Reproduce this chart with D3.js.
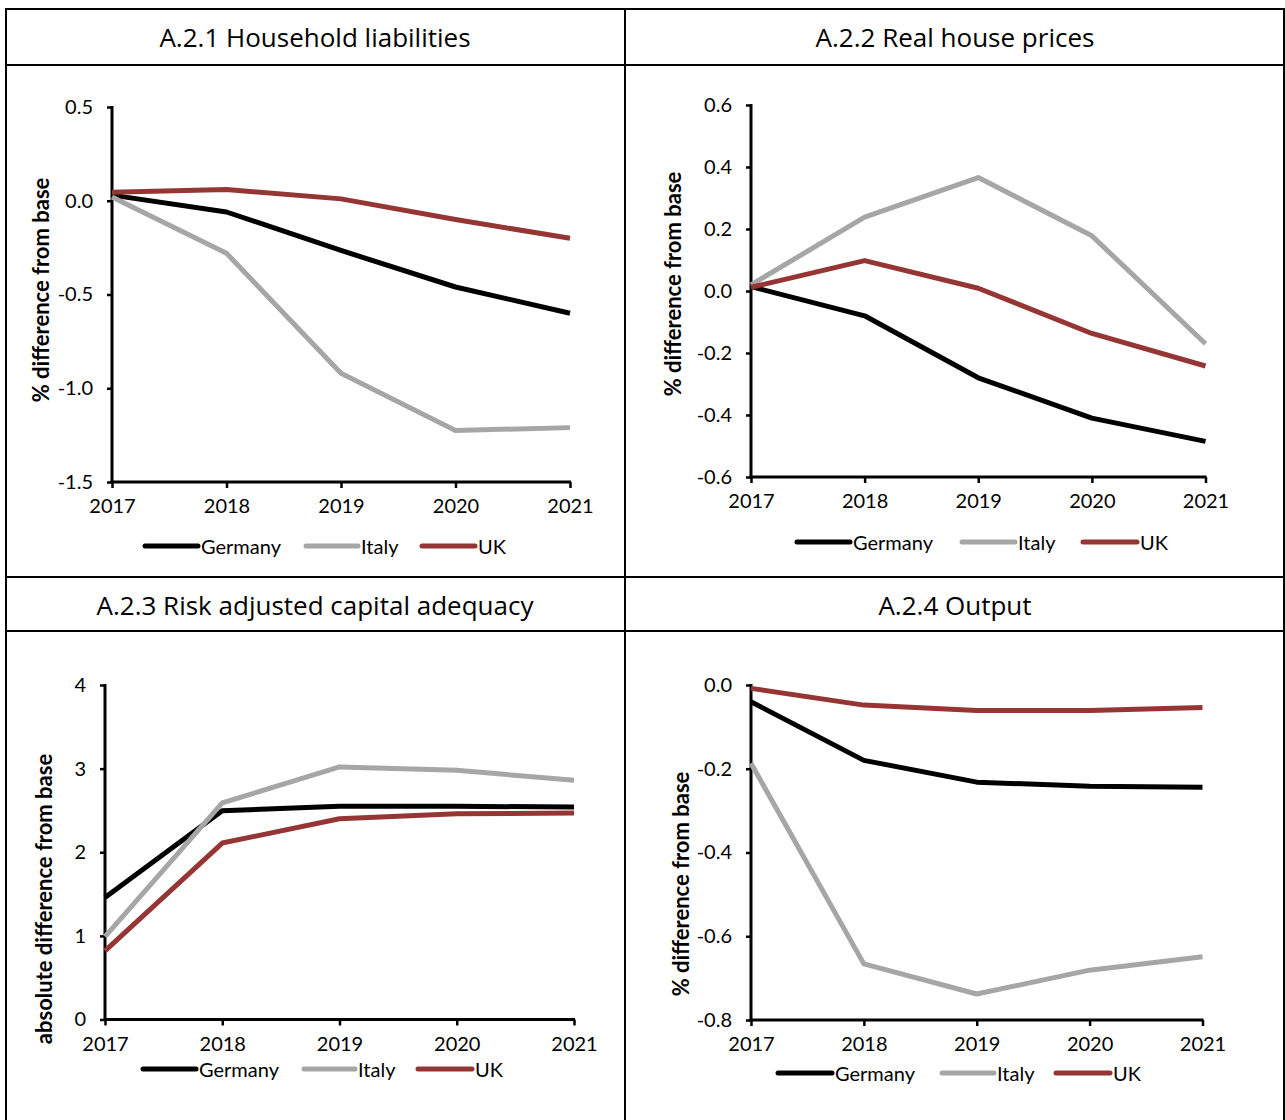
<!DOCTYPE html>
<html>
<head>
<meta charset="utf-8">
<script src="https://cdn.jsdelivr.net/npm/d3@7"></script>
<style>
  html, body { margin: 0; padding: 0; background: #fff; }
  svg text { font-family: "Lato", "Open Sans", sans-serif; fill: #000; }
  .title { font-family: "Open Sans", "Noto Sans", sans-serif; font-size: 26px; }
</style>
</head>
<body>
<svg id="chart" width="1285" height="1120"></svg>
<script>
// Years on the horizontal axis
const years = [2017, 2018, 2019, 2020, 2021];
const seriesNames = ["Germany", "Italy", "UK"];
const seriesColors = ["#000000", "#a6a6a6", "#963634"];

// A.2.1 Household liabilities (% difference from base)
const liabGermany = [0.03, -0.06, -0.265, -0.46, -0.60];
const liabItaly   = [0.02, -0.28, -0.92, -1.225, -1.21];
const liabUK      = [0.045, 0.06, 0.01, -0.10, -0.20];
const liabTicks   = [0.5, 0.0, -0.5, -1.0, -1.5];

// A.2.2 Real house prices (% difference from base)
const houseGermany = [0.014, -0.08, -0.28, -0.41, -0.485];
const houseItaly   = [0.02, 0.238, 0.366, 0.178, -0.17];
const houseUK      = [0.012, 0.098, 0.009, -0.137, -0.242];
const houseTicks   = [0.6, 0.4, 0.2, 0.0, -0.2, -0.4, -0.6];

// A.2.3 Risk adjusted capital adequacy (absolute difference from base)
const capGermany = [1.46, 2.495, 2.55, 2.55, 2.54];
const capItaly   = [0.99, 2.59, 3.02, 2.98, 2.86];
const capUK      = [0.82, 2.11, 2.40, 2.46, 2.47];
const capTicks   = [4, 3, 2, 1, 0];

// A.2.4 Output (% difference from base)
const outGermany = [-0.04, -0.18, -0.232, -0.242, -0.244];
const outItaly   = [-0.187, -0.666, -0.738, -0.681, -0.649];
const outUK      = [-0.008, -0.048, -0.061, -0.061, -0.054];
const outTicks   = [0.0, -0.2, -0.4, -0.6, -0.8];

const svg = d3.select("#chart");

// tick formatters using a plain hyphen for negatives
const oneDecimal = v => d3.format(".1f")(v).replace("\u2212", "-");
const integer = v => d3.format("d")(v).replace("\u2212", "-");

// Table frame
const frame = svg.append("g").attr("stroke", "#000").attr("stroke-width", 2);
[[6, 9, 6, 1120], [1284, 9, 1284, 1120], [625, 9, 625, 1120],
 [5, 9, 1285, 9], [5, 65, 1285, 65], [5, 577, 1285, 577], [5, 631, 1285, 631]]
  .forEach(([x1, y1, x2, y2]) => frame.append("line")
    .attr("x1", x1).attr("y1", y1).attr("x2", x2).attr("y2", y2));

const panels = [
  { title: "A.2.1 Household liabilities", titleX: 315, titleY: 37,
    series: [liabGermany, liabItaly, liabUK], ticks: liabTicks, fmt: oneDecimal,
    ylabel: "% difference from base", labelX: 40, labelY: 290,
    x0: 112, x1: 570, yTop: 107, yBot: 482,
    legend: { y: 546, lines: [[145, 198], [306, 358], [422, 475]] } },
  { title: "A.2.2 Real house prices", titleX: 955, titleY: 37,
    series: [houseGermany, houseItaly, houseUK], ticks: houseTicks, fmt: oneDecimal,
    ylabel: "% difference from base", labelX: 672, labelY: 284,
    x0: 751, x1: 1205.5, yTop: 105, yBot: 477,
    legend: { y: 542, lines: [[797, 850], [962, 1015], [1083, 1137]] } },
  { title: "A.2.3 Risk adjusted capital adequacy", titleX: 315, titleY: 605,
    series: [capGermany, capItaly, capUK], ticks: capTicks, fmt: integer,
    ylabel: "absolute difference from base", labelX: 43, labelY: 899,
    x0: 105, x1: 574, yTop: 685, yBot: 1019.5,
    legend: { y: 1069, lines: [[143, 196], [304, 355], [418, 472]] } },
  { title: "A.2.4 Output", titleX: 955, titleY: 605,
    series: [outGermany, outItaly, outUK], ticks: outTicks, fmt: oneDecimal,
    ylabel: "% difference from base", labelX: 680, labelY: 884,
    x0: 751, x1: 1202.5, yTop: 685, yBot: 1020,
    legend: { y: 1073, lines: [[778, 832], [942, 994], [1056, 1110]] } }
];

panels.forEach(p => {
  const g = svg.append("g");

  g.append("text").attr("class", "title")
    .attr("x", p.titleX).attr("y", p.titleY)
    .attr("text-anchor", "middle").attr("dominant-baseline", "central")
    .text(p.title);

  const x = d3.scaleLinear().domain([years[0], years[years.length - 1]]).range([p.x0, p.x1]);
  const y = d3.scaleLinear().domain(d3.extent(p.ticks)).range([p.yBot, p.yTop]);

  // y axis
  const ya = g.append("g").attr("transform", `translate(${p.x0},0)`)
    .call(d3.axisLeft(y).tickValues(p.ticks).tickFormat(p.fmt).tickSize(5).tickSizeOuter(0).tickPadding(14));
  ya.select(".domain").remove();
  ya.selectAll(".tick line").attr("stroke", "#000").attr("stroke-width", 2.5);
  ya.selectAll(".tick text").style("font-size", "20px");

  // x axis
  const xa = g.append("g").attr("transform", `translate(0,${p.yBot})`)
    .call(d3.axisBottom(x).tickValues(years).tickFormat(d3.format("d")).tickSize(6).tickSizeOuter(0).tickPadding(11));
  xa.select(".domain").remove();
  xa.selectAll(".tick line").attr("stroke", "#000").attr("stroke-width", 2.5);
  xa.selectAll(".tick text").style("font-size", "20px");

  // axis lines
  g.append("line").attr("x1", p.x0).attr("x2", p.x0).attr("y1", p.yTop - 1).attr("y2", p.yBot + 1.5)
    .attr("stroke", "#000").attr("stroke-width", 3);
  g.append("line").attr("x1", p.x0 - 1.5).attr("x2", p.x1 + 1).attr("y1", p.yBot).attr("y2", p.yBot)
    .attr("stroke", "#000").attr("stroke-width", 3);

  // axis title
  g.append("text")
    .attr("transform", `translate(${p.labelX},${p.labelY}) rotate(-90)`)
    .attr("text-anchor", "middle").attr("dominant-baseline", "central")
    .style("font-size", "22px").style("font-weight", "bold")
    .text(p.ylabel);

  // series lines
  const line = d3.line().x((d, i) => x(years[i])).y(d => y(d));
  p.series.forEach((vals, k) => {
    g.append("path").datum(vals)
      .attr("d", line).attr("fill", "none")
      .attr("stroke", seriesColors[k]).attr("stroke-width", 5)
      .attr("stroke-linejoin", "round");
  });

  // legend
  p.legend.lines.forEach(([lx0, lx1], k) => {
    g.append("line").attr("x1", lx0).attr("x2", lx1)
      .attr("y1", p.legend.y).attr("y2", p.legend.y)
      .attr("stroke", seriesColors[k]).attr("stroke-width", 5).attr("stroke-linecap", "round");
    g.append("text").attr("x", lx1 + 3).attr("y", p.legend.y)
      .attr("dominant-baseline", "central").style("font-size", "20px")
      .text(seriesNames[k]);
  });
});
</script>
</body>
</html>
